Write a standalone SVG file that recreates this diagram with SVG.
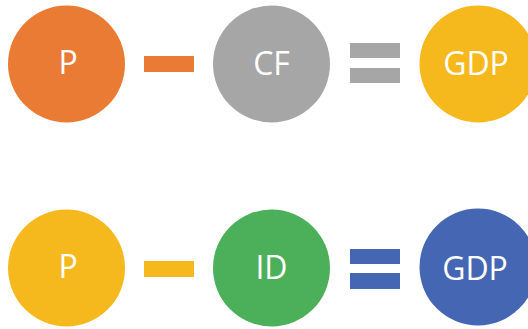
<svg xmlns="http://www.w3.org/2000/svg" width="528" height="329" viewBox="0 0 528 329">
<style>
.lbl{font-family:"Open Sans","Liberation Sans",sans-serif;font-size:32px;fill:#ffffff;text-anchor:middle}
</style>
<rect width="528" height="329" fill="#ffffff"/>
<g id="p1"><circle cx="66.5" cy="64" r="58.5" fill="#EA7B34"/><text class="lbl" x="68" y="74">P</text></g>
<g id="cf"><circle cx="271.5" cy="64" r="58.5" fill="#A6A6A6"/><text class="lbl" x="271.5" y="75">CF</text></g>
<g id="gdp1"><circle cx="478" cy="64" r="58.5" fill="#F5B91E"/><text class="lbl" x="476" y="75">GDP</text></g>
<g id="p2"><circle cx="66.5" cy="268" r="58.5" fill="#F5B91E"/><text class="lbl" x="68" y="278">P</text></g>
<g id="id"><circle cx="271.5" cy="268" r="58.5" fill="#4CAF5A"/><text class="lbl" x="271.5" y="279">ID</text></g>
<g id="gdp2"><circle cx="478" cy="267" r="58.5" fill="#4466B3"/><text class="lbl" x="475" y="280">GDP</text></g>
<g id="connectors">
<rect x="144" y="56" width="50" height="16" fill="#EA7B34"/>
<rect x="350" y="43" width="50" height="15" fill="#A6A6A6"/>
<rect x="350" y="68" width="50" height="15" fill="#A6A6A6"/>
<rect x="144" y="261" width="50" height="16" fill="#F5B91E"/>
<rect x="350" y="249" width="50" height="15" fill="#4466B3"/>
<rect x="350" y="273" width="50" height="16" fill="#4466B3"/>
</g>
</svg>
